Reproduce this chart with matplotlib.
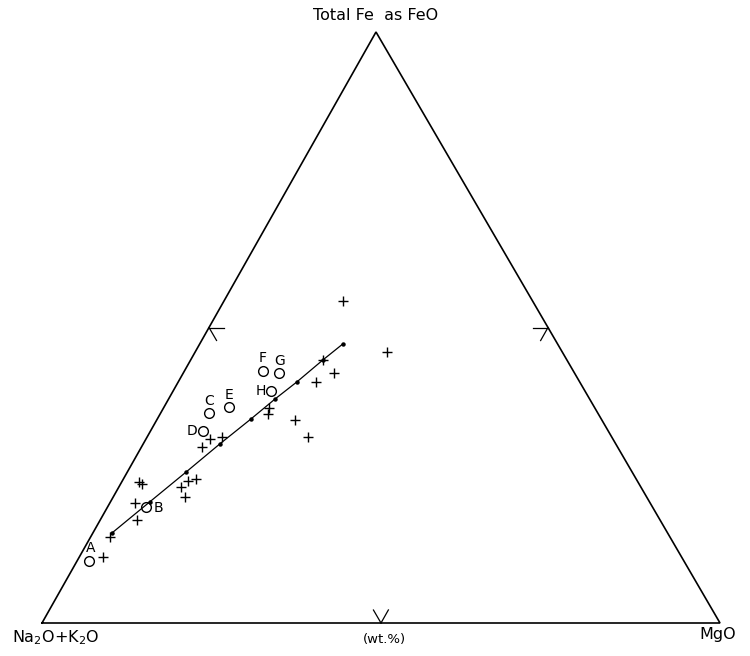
import matplotlib
matplotlib.use("Agg")
import matplotlib.pyplot as plt
import numpy as np

# Ternary compositions (wt.%): FeO(total), Na2O+K2O, MgO
plus_feo = [11.2, 14.6, 17.4, 20.3, 23.9, 23.5, 23.0, 24.0, 24.4, 21.3, 29.8, 31.1, 31.5,
            36.4, 35.4, 34.4, 31.5, 40.8, 42.3, 44.5, 54.5, 45.9]
plus_mgo = [3.5, 2.9, 5.4, 3.7, 2.6, 3.2, 9.2, 9.7, 10.7, 10.6, 8.9, 9.4, 11.1,
            15.6, 15.9, 20.4, 23.7, 20.3, 22.2, 19.5, 17.6, 28.2]

circ_names = ["A", "B", "C", "D", "E", "F", "G", "H"]
circ_feo = [10.5, 19.6, 35.5, 32.5, 36.6, 42.6, 42.3, 39.3]
circ_mgo = [1.8, 5.7, 7.1, 7.7, 9.6, 11.6, 14.1, 14.4]

trend_feo = [15.2, 20.5, 25.6, 30.3, 34.5, 37.9, 40.8, 44.5, 47.2]
trend_mgo = [2.8, 5.8, 8.7, 11.3, 13.8, 15.7, 17.5, 19.5, 21.1]

# Figure geometry (pixel space)
W, H = 750, 656
VL = np.array([42.0, 623.0])   # Na2O+K2O
VR = np.array([720.0, 623.0])  # MgO
VT = np.array([376.0, 32.0])   # FeO


def tern(feo, mgo):
    feo = np.asarray(feo, float) / 100.0
    mgo = np.asarray(mgo, float) / 100.0
    alk = 1.0 - feo - mgo
    x = alk * VL[0] + mgo * VR[0] + feo * VT[0]
    y = alk * VL[1] + mgo * VR[1] + feo * VT[1]
    return x, y


fig = plt.figure(figsize=(W / 100, H / 100), dpi=100)
ax = fig.add_axes([0, 0, 1, 1])
ax.set_xlim(0, W)
ax.set_ylim(H, 0)
ax.axis("off")

# Triangle
tri = np.array([VL, VR, VT, VL])
ax.plot(tri[:, 0], tri[:, 1], color="black", lw=1.2, solid_joinstyle="miter")

# 50% ticks on each side
tl = 15.0
def unit(v):
    v = np.asarray(v, float)
    return v / np.linalg.norm(v)

mL = (VL + VT) / 2
mR = (VR + VT) / 2
mB = (VL + VR) / 2
for p, dirs in [
    (mL, [unit(VR - VL), unit(VR - VT)]),
    (mR, [unit(VL - VR), unit(VL - VT)]),
    (mB, [unit(VT - VL), unit(VT - VR)]),
]:
    for d in dirs:
        ax.plot([p[0], p[0] + tl * d[0]], [p[1], p[1] + tl * d[1]], color="black", lw=0.9)

# Trend line
tx, ty = tern(trend_feo, trend_mgo)
ax.plot(tx, ty, color="black", lw=0.9, marker="o", ms=2.2, mfc="black", mec="black")

# Plus markers
px, py = tern(plus_feo, plus_mgo)
ax.plot(px, py, ls="none", marker="+", ms=7.5, mew=1.0, color="black")

# Circles
cx, cy = tern(circ_feo, circ_mgo)
ax.plot(cx, cy, ls="none", marker="o", ms=7, mfc="none", mec="black", mew=1.0)

offsets = {"A": (1, -13), "B": (12, 1), "C": (0, -12), "D": (-11, 0), "E": (0, -12),
           "F": (0, -13), "G": (1, -12), "H": (-10, 0)}
for n, x, y in zip(circ_names, cx, cy):
    dx, dy = offsets[n]
    ax.text(x + dx, y + dy, n, ha="center", va="center", fontsize=10)

# Axis labels
ax.text(VT[0], 16, "Total Fe  as FeO", ha="center", va="center", fontsize=11.5)
ax.text(56, 638, "Na$_2$O+K$_2$O", ha="center", va="center", fontsize=11.5)
ax.text(718, 634, "MgO", ha="center", va="center", fontsize=11.5)
ax.text(384, 639, "(wt.%)", ha="center", va="center", fontsize=9.5)

fig.savefig("out.png", dpi=100)
